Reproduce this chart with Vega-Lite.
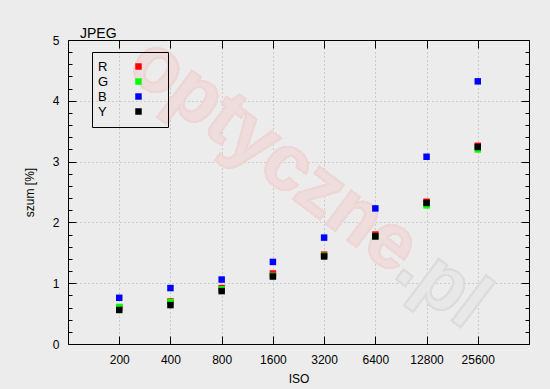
{
  "$schema": "https://vega.github.io/schema/vega-lite/v6.json",
  "width": 461,
  "height": 304,
  "autosize": "none",
  "padding": {"left": 68, "top": 40, "right": 21, "bottom": 45},
  "background": "#ececec",
  "title": {"text": "JPEG", "anchor": "start", "frame": "group", "font": "Liberation Sans", "fontSize": 14, "fontWeight": "normal", "color": "#000", "dx": 12, "offset": -29, "baseline": "alphabetic"},
  "config": {
    "view": {"stroke": null, "fill": "#ececec"},
    "axis": {"domainColor": "#000", "domainWidth": 1, "tickColor": "#000", "labelFont": "Liberation Sans", "labelFontSize": 12, "labelColor": "#000", "titleFont": "Liberation Sans", "titleFontSize": 12, "titleFontWeight": "normal", "titleColor": "#000", "gridColor": "#aaaaaa", "gridDash": [1, 3]},
    "legend": {"orient": "none", "legendX": 24, "legendY": 12, "symbolType": "square", "symbolSize": 42, "symbolStrokeWidth": 0, "symbolOpacity": 1, "symbolOffset": 32, "labelFont": "Liberation Sans", "labelFontSize": 13, "labelColor": "#000", "labelAlign": "left", "labelOffset": -47, "strokeColor": "#000", "padding": 8, "rowPadding": 1, "titleOrient": "right", "titleFontSize": 8, "titleOpacity": 0, "titlePadding": 3}
  },
  "data": {"values": [
    {"iso": "200", "ch": "R", "v": 0.60}, {"iso": "200", "ch": "G", "v": 0.61}, {"iso": "200", "ch": "B", "v": 0.76}, {"iso": "200", "ch": "Y", "v": 0.56},
    {"iso": "400", "ch": "R", "v": 0.70}, {"iso": "400", "ch": "G", "v": 0.69}, {"iso": "400", "ch": "B", "v": 0.92}, {"iso": "400", "ch": "Y", "v": 0.64},
    {"iso": "800", "ch": "R", "v": 0.92}, {"iso": "800", "ch": "G", "v": 0.90}, {"iso": "800", "ch": "B", "v": 1.06}, {"iso": "800", "ch": "Y", "v": 0.87},
    {"iso": "1600", "ch": "R", "v": 1.16}, {"iso": "1600", "ch": "G", "v": 1.12}, {"iso": "1600", "ch": "B", "v": 1.35}, {"iso": "1600", "ch": "Y", "v": 1.11},
    {"iso": "3200", "ch": "R", "v": 1.47}, {"iso": "3200", "ch": "G", "v": 1.45}, {"iso": "3200", "ch": "B", "v": 1.75}, {"iso": "3200", "ch": "Y", "v": 1.44},
    {"iso": "6400", "ch": "R", "v": 1.80}, {"iso": "6400", "ch": "G", "v": 1.77}, {"iso": "6400", "ch": "B", "v": 2.23}, {"iso": "6400", "ch": "Y", "v": 1.77},
    {"iso": "12800", "ch": "R", "v": 2.34}, {"iso": "12800", "ch": "G", "v": 2.28}, {"iso": "12800", "ch": "B", "v": 3.08}, {"iso": "12800", "ch": "Y", "v": 2.32},
    {"iso": "25600", "ch": "R", "v": 3.26}, {"iso": "25600", "ch": "G", "v": 3.20}, {"iso": "25600", "ch": "B", "v": 4.32}, {"iso": "25600", "ch": "Y", "v": 3.24}
  ]},
  "layer": [
    {
      "mark": {"type": "text", "font": "Liberation Sans", "fontWeight": "bold", "fontSize": 78, "angle": 37, "align": "center", "baseline": "middle", "fill": "#efdddd", "stroke": "#eed6d6", "strokeWidth": 2, "dx": 1},
      "encoding": {
        "x": {"datum": "1600", "type": "ordinal", "axis": null},
        "y": {"datum": 3.11, "type": "quantitative", "axis": null},
        "text": {"value": "optyczne"}
      }
    },
    {
      "mark": {"type": "text", "font": "Liberation Sans", "fontWeight": "bold", "fontSize": 78, "angle": 37, "align": "center", "baseline": "middle", "fill": "#e8e8e8", "stroke": "#dcdcdc", "strokeWidth": 2, "dx": 20},
      "encoding": {
        "x": {"datum": "12800", "type": "ordinal", "axis": null},
        "y": {"datum": 1.17, "type": "quantitative", "axis": null},
        "text": {"value": ".pl"}
      }
    },
    {
      "transform": [{"filter": "datum.ch === 'R'"}],
      "mark": {"type": "square", "size": 42, "opacity": 1, "dx": 4},
      "encoding": {
        "x": {"field": "iso", "type": "ordinal", "scale": {"type": "point", "padding": 1, "domain": ["200", "400", "800", "1600", "3200", "6400", "12800", "25600"]},
              "axis": {"orient": "bottom", "title": "ISO", "labelAngle": 0, "tickSize": -8, "labelPadding": 18, "titlePadding": 8, "grid": true}},
        "y": {"field": "v", "type": "quantitative", "scale": {"domain": [0, 5], "nice": false, "zero": false},
              "axis": {"orient": "left", "title": "szum [%]", "values": [0,0.2,0.4,0.6,0.8,1,1.2,1.4,1.6,1.8,2,2.2,2.4,2.6,2.8,3,3.2,3.4,3.6,3.8,4,4.2,4.4,4.6,4.8,5],
                       "labelExpr": "round(datum.value*10) % 10 === 0 ? format(datum.value, 'd') : ''",
                       "tickSize": {"condition": {"test": "round(datum.value*10) % 10 === 0", "value": -8}, "value": -4},
                       "gridOpacity": {"condition": {"test": "round(datum.value*10) % 10 === 0 && datum.value > 0 && datum.value < 5", "value": 1}, "value": 0},
                       "grid": true, "labelPadding": 17, "titlePadding": 16}},
        "color": {"field": "ch", "type": "nominal", "title": "mm", "scale": {"domain": ["R", "G", "B", "Y"], "range": ["#ff0000", "#00ff00", "#0000ff", "#000000"]}}
      }
    },
    {
      "transform": [{"filter": "datum.ch === 'G'"}],
      "mark": {"type": "square", "size": 42, "opacity": 1, "dx": 1},
      "encoding": {
        "x": {"field": "iso", "type": "ordinal", "axis": {"orient": "top", "title": null, "labels": false, "tickSize": -8, "grid": false}},
        "y": {"field": "v", "type": "quantitative",
              "axis": {"orient": "right", "title": null, "labels": false, "grid": false, "values": [0,0.2,0.4,0.6,0.8,1,1.2,1.4,1.6,1.8,2,2.2,2.4,2.6,2.8,3,3.2,3.4,3.6,3.8,4,4.2,4.4,4.6,4.8,5],
                       "tickSize": {"condition": {"test": "round(datum.value*10) % 10 === 0", "value": -8}, "value": -4}}},
        "color": {"field": "ch", "type": "nominal", "title": "mm"}
      }
    },
    {
      "transform": [{"filter": "datum.ch === 'B'"}],
      "mark": {"type": "square", "size": 42, "opacity": 1},
      "encoding": {
        "x": {"field": "iso", "type": "ordinal", "axis": null},
        "y": {"field": "v", "type": "quantitative", "axis": null},
        "color": {"field": "ch", "type": "nominal", "title": "mm"}
      }
    },
    {
      "transform": [{"filter": "datum.ch === 'Y'"}],
      "mark": {"type": "square", "size": 42, "opacity": 1, "dx": -4},
      "encoding": {
        "x": {"field": "iso", "type": "ordinal", "axis": null},
        "y": {"field": "v", "type": "quantitative", "axis": null},
        "color": {"field": "ch", "type": "nominal", "title": "mm"}
      }
    }
  ],
  "resolve": {"axis": {"x": "independent", "y": "independent"}}
}
